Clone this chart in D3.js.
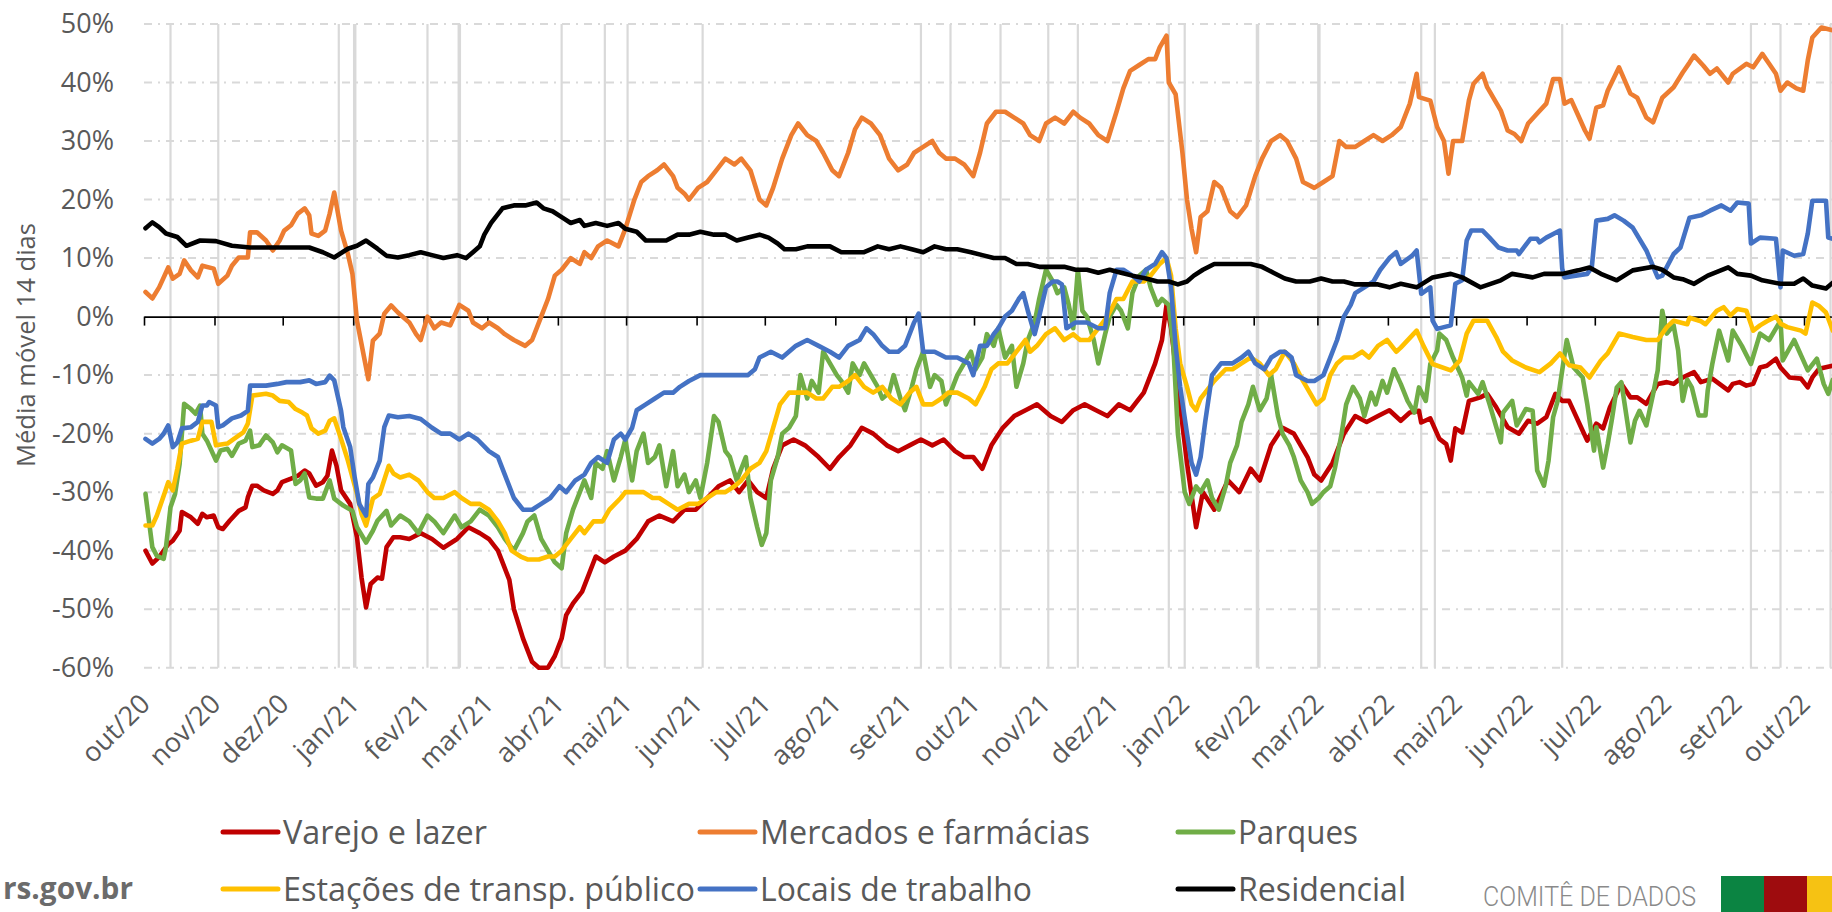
<!DOCTYPE html>
<html><head><meta charset="utf-8">
<script src="https://cdn.jsdelivr.net/npm/d3@7"></script>
<style>body{margin:0;background:#fff}svg{display:block}text{font-family:"Open Sans",sans-serif}</style>
</head><body><svg id="chart" width="1832" height="912"></svg>
<script>
const startDate = "2020-10-01";
const endDay = 742;
const monthLabels = ["out/20","nov/20","dez/20","jan/21","fev/21","mar/21","abr/21","mai/21","jun/21","jul/21","ago/21","set/21","out/21","nov/21","dez/21","jan/22","fev/22","mar/22","abr/22","mai/22","jun/22","jul/22","ago/22","set/22","out/22"];
const yTicks = [50,40,30,20,10,0,-10,-20,-30,-40,-50,-60];
const holidays = ["2020-10-12","2020-11-02","2020-12-25","2021-01-01","2021-02-02","2021-02-16","2021-04-02","2021-04-21","2021-05-01","2021-06-03","2021-09-07","2021-09-20","2021-10-12","2021-11-02","2021-11-15","2021-12-25","2022-01-01","2022-02-02","2022-03-01","2022-04-15","2022-04-21","2022-06-16","2022-09-07","2022-09-20","2022-10-12"];
const holidaysThick = ["2021-01-01","2021-02-16","2022-02-02","2022-03-01"];
const seriesNames = ["Varejo e lazer","Mercados e farmácias","Parques","Estações de transp. público","Locais de trabalho","Residencial"];
const seriesColors = ["#c00000","#ed7d31","#70ad47","#ffc000","#4472c4","#000000"];
const yTitle = "Média móvel 14 dias";

// [day offset from startDate, value %]
const varejo = [[0,-40],[3,-42.2],[6,-41.1],[10,-38.9],[12,-38.3],[15,-36.6],[16,-33.4],[20,-34.3],[23,-35.4],[25,-33.7],[27,-34.3],[30,-34],[32,-36],[34,-36.3],[37,-34.9],[41,-33.2],[44,-32.6],[45,-30.9],[47,-28.9],[49,-28.9],[52,-29.7],[56,-30.3],[58,-29.7],[60,-28.3],[64,-27.7],[67,-27.2],[70,-26.3],[72,-26.8],[75,-28.9],[78,-28.3],[80,-27.2],[82,-22.9],[84,-25.5],[86,-29.7],[90,-32],[93,-37.7],[95,-44.6],[97,-49.7],[99,-45.7],[102,-44.6],[104,-44.8],[106,-39.4],[109,-37.7],[112,-37.7],[116,-38],[121,-37],[126,-38],[131,-39.5],[137,-38],[142,-36],[147,-37],[151,-38],[155,-40],[160,-45],[162,-50],[166,-55],[170,-59],[173,-60],[177,-60],[180,-58],[183,-55],[185,-51],[188,-49],[192,-47],[195,-44],[198,-41],[202,-42],[206,-41],[211,-40],[216,-38],[221,-35],[226,-34],[232,-35],[237,-33],[242,-33],[247,-31],[252,-29],[257,-28],[261,-30],[265,-28],[269,-30],[273,-31],[276,-26],[280,-22],[285,-21],[290,-22],[296,-24],[301,-26],[305,-24],[310,-22],[315,-19],[320,-20],[326,-22],[331,-23],[336,-22],[341,-21],[346,-22],[351,-21],[356,-23],[360,-24],[364,-24],[368,-26],[372,-22],[377,-19],[382,-17],[387,-16],[392,-15],[398,-17],[403,-18],[408,-16],[413,-15],[418,-16],[423,-17],[428,-15],[433,-16],[439,-13],[444,-8],[447,-4],[449,2],[451,-2],[454,-12],[458,-25],[462,-36],[465,-30],[470,-33],[476,-28],[481,-30],[486,-26],[490,-28],[495,-22],[500,-19],[505,-20],[511,-24],[514,-27],[517,-28],[522,-25],[527,-20],[532,-17],[537,-18],[542,-17],[547,-16],[552,-17.8],[556,-16.4],[560,-16.1],[561,-18.1],[565,-17.4],[569,-20.9],[572,-21.8],[574,-24.6],[576,-19.1],[579,-19.8],[582,-14.4],[587,-13.8],[590,-13.2],[594,-15.5],[599,-18.9],[604,-20],[608,-17.8],[612,-18.3],[616,-17.2],[620,-13.2],[623,-14.4],[626,-14.4],[632,-19.5],[634,-21.2],[638,-18.3],[641,-19.1],[644,-15.5],[649,-11.5],[653,-13.8],[656,-13.8],[660,-14.9],[665,-11.5],[669,-11.2],[672,-11.5],[675,-10.6],[681,-9.5],[684,-11.2],[689,-10.6],[696,-12.6],[698,-11.5],[701,-11.2],[704,-11.8],[707,-11.5],[710,-8.7],[713,-8.4],[717,-7.2],[719,-8.7],[723,-10.4],[728,-10.6],[731,-12.1],[733,-10.4],[736,-8.9],[742,-8.4]];

const mercados = [[0,4.2],[3,3.1],[6,5],[10,8.4],[12,6.5],[15,7.3],[17,9.6],[20,7.9],[23,6.7],[25,8.7],[30,8.2],[32,5.6],[36,7],[38,8.7],[41,10.1],[45,10.1],[46,14.4],[49,14.4],[53,13],[56,11.3],[59,13],[61,14.7],[64,15.6],[67,17.6],[70,18.5],[72,17.3],[73,14.2],[76,13.8],[79,14.7],[81,17.6],[83,21.2],[86,14.7],[89,10.7],[91,7.3],[93,-0.7],[98,-10.7],[100,-4.1],[103,-2.9],[105,0.5],[108,1.9],[111,0.7],[116,-1],[119,-3],[121,-4],[124,0],[127,-2],[130,-1],[134,-1.5],[138,2],[142,1],[144,-1],[148,-2],[151,-1],[155,-2],[158,-3],[162,-4],[167,-5],[170,-4],[174,0],[177,3],[180,7],[183,8],[187,10],[191,9],[193,11],[196,10],[199,12],[203,13],[208,12],[211,15],[215,20],[218,23],[221,24],[225,25],[228,26],[232,24],[234,22],[237,21],[239,20],[243,22],[247,23],[251,25],[255,27],[259,26],[262,27],[266,25],[270,20],[273,19],[276,22],[280,27],[284,31],[287,33],[291,31],[295,30],[298,28],[302,25],[305,24],[309,28],[312,32],[315,34],[319,33],[323,31],[327,27],[331,25],[335,26],[338,28],[342,29],[346,30],[349,28],[352,27],[356,27],[360,26],[364,24],[367,28],[370,33],[374,35],[378,35],[382,34],[386,33],[389,31],[393,30],[396,33],[400,34],[404,33],[408,35],[411,34],[415,33],[419,31],[423,30],[427,35],[430,39],[433,42],[437,43],[441,44],[444,44],[446,46],[449,48],[450,40],[453,38],[456,28],[458,20],[460,15],[462,11],[464,17],[467,18],[470,23],[473,22],[477,18],[480,17],[484,19],[488,24],[491,27],[495,30],[499,31],[502,30],[506,27],[509,23],[514,22],[518,23],[522,24],[525,30],[528,29],[532,29],[536,30],[540,31],[544,30],[548,31],[552,32.4],[556,36.4],[559,41.5],[560,37.5],[565,36.9],[568,32.4],[571,30],[573,24.4],[575,30],[579,30],[582,37],[584,39.8],[588,41.5],[590,39.2],[596,35.2],[599,31.8],[602,31.2],[605,30],[608,33],[612,34.7],[616,36.4],[619,40.6],[622,40.6],[624,36.4],[627,37],[630,34.4],[633,31.8],[635,30.4],[638,35.7],[641,36.1],[643,38.6],[648,42.6],[653,38.1],[656,37.4],[660,34],[663,33.2],[667,37.4],[672,39.2],[676,41.7],[679,43.4],[681,44.6],[685,42.9],[688,41.5],[691,42.4],[696,40],[698,41.5],[704,43.2],[707,42.6],[711,44.9],[714,43.2],[717,41.5],[719,38.6],[722,40],[726,39],[729,38.6],[731,43.8],[733,47.7],[737,49.4],[742,48.9]];

const parques = [[0,-30.3],[3,-39.4],[5,-40.9],[8,-41.4],[9,-39.4],[11,-32.6],[13,-30.3],[15,-25.2],[17,-14.9],[20,-15.8],[22,-16.6],[24,-15.2],[25,-20],[27,-21.2],[31,-24.6],[33,-22.9],[36,-22.6],[38,-23.8],[41,-21.7],[44,-21.2],[46,-19.5],[47,-22.3],[50,-22],[53,-20.3],[56,-21.5],[58,-23.2],[60,-22],[64,-22.9],[66,-28.6],[68,-28],[70,-26.8],[72,-30.9],[75,-31.1],[78,-31.1],[81,-28],[83,-31.1],[87,-32.3],[91,-33.2],[93,-36],[97,-38.6],[100,-36.6],[102,-34.9],[106,-33.2],[108,-35.7],[112,-34],[116,-35],[120,-37],[124,-34],[127,-35],[131,-37],[136,-34],[139,-36],[143,-35],[147,-33],[151,-34],[155,-36],[158,-38],[162,-40],[166,-37],[168,-35],[171,-34],[174,-38],[177,-40],[180,-42],[183,-43],[185,-37],[188,-33],[191,-30],[193,-28],[196,-31],[198,-25],[201,-26],[203,-23],[206,-28],[209,-24],[211,-21],[214,-28],[216,-23],[219,-20],[221,-25],[224,-24],[226,-22],[229,-29],[232,-23],[234,-29],[237,-27],[239,-30],[242,-28],[244,-31],[247,-25],[250,-17],[252,-18],[255,-23],[257,-24],[260,-28],[264,-24],[266,-31],[269,-36],[271,-39],[273,-37],[275,-28],[278,-24],[280,-20],[283,-19],[286,-17],[288,-10],[291,-14],[293,-11],[296,-13],[298,-6],[301,-8],[304,-10],[306,-11],[309,-13],[311,-8],[314,-10],[316,-8],[319,-10],[322,-12],[324,-14],[327,-13],[329,-10],[332,-14],[334,-16],[337,-12],[339,-9],[342,-6],[345,-12],[347,-10],[350,-11],[352,-15],[355,-12],[357,-10],[360,-8],[363,-6],[365,-9],[368,-7],[370,-3],[373,-5],[375,-2],[378,-7],[381,-5],[383,-12],[386,-8],[388,-4],[391,-1],[393,3],[396,8],[399,6],[401,4],[404,5],[406,2],[408,-2],[410,8],[412,1],[414,0],[417,-4],[419,-8],[422,-3],[424,0],[427,2],[429,1],[432,-2],[434,4],[437,7],[440,8],[442,5],[445,2],[447,3],[450,2],[452,-5],[454,-20],[457,-30],[459,-32],[462,-29],[464,-30],[467,-28],[469,-31],[472,-33],[475,-29],[477,-25],[480,-22],[482,-18],[485,-15],[487,-12],[490,-16],[493,-14],[495,-10],[498,-17],[500,-20],[503,-22],[505,-24],[508,-28],[511,-30],[513,-32],[516,-31],[518,-30],[521,-29],[523,-26],[526,-20],[528,-15],[531,-12],[534,-14],[536,-17],[539,-13],[541,-15],[544,-11],[546,-13],[549,-9],[552,-11.5],[555,-14.4],[558,-16.4],[560,-12.1],[563,-14.4],[565,-8.1],[568,-5.8],[569,-2.9],[572,-4],[575,-7],[579,-10.4],[581,-13.5],[582,-11.2],[586,-13.2],[588,-11.2],[591,-14.9],[596,-21.5],[597,-16.4],[601,-14.4],[603,-18.6],[607,-15.8],[610,-16.1],[612,-26.3],[615,-28.9],[617,-24.6],[619,-17.2],[621,-14.4],[623,-9.2],[625,-4],[628,-8.7],[632,-10.4],[634,-14.9],[637,-22.9],[638,-18.9],[641,-25.8],[643,-21.8],[645,-17.2],[647,-12.1],[649,-11.2],[653,-21.5],[655,-17.8],[657,-16.1],[660,-18.6],[663,-13.2],[665,-9.2],[667,1],[669,-2.9],[672,-1.5],[674,-5.8],[676,-14.4],[678,-10.8],[680,-12.1],[683,-16.9],[686,-16.9],[687,-12.6],[689,-8.1],[692,-2.4],[696,-7.5],[698,-2.4],[702,-5],[706,-8.1],[710,-2.9],[714,-4],[719,-0.7],[720,-7.5],[725,-4],[731,-9.2],[735,-7.2],[738,-11.5],[740,-13.2],[742,-10.8]];

const estacoes = [[0,-35.7],[3,-35.7],[5,-34],[8,-30.6],[10,-28.3],[12,-29.7],[14,-26],[16,-21.7],[20,-21.2],[23,-20.9],[25,-18],[29,-18],[31,-22],[36,-21.7],[40,-20.6],[43,-19.8],[45,-18.3],[47,-13.5],[53,-13.2],[56,-13.5],[59,-14.4],[63,-14.6],[66,-15.8],[69,-16.4],[71,-16.9],[73,-19.1],[76,-20],[79,-19.5],[81,-17.8],[83,-17.4],[86,-20.9],[89,-24.6],[93,-30.3],[95,-33.7],[97,-35.7],[100,-31.1],[103,-30.3],[107,-25.5],[109,-26.8],[112,-27.5],[116,-27],[120,-28],[124,-30],[127,-31],[131,-31],[136,-30],[139,-31],[143,-32],[147,-32],[151,-33],[155,-35],[158,-37],[161,-40],[165,-41],[168,-41.5],[173,-41.5],[177,-41],[180,-41],[183,-40],[187,-38],[191,-36],[193,-37],[197,-35],[201,-35],[204,-33],[209,-31],[211,-30],[215,-30],[219,-30],[223,-31],[226,-31],[230,-32],[234,-33],[239,-32],[243,-32],[247,-31],[251,-30],[255,-30],[259,-29],[262,-28],[266,-26],[270,-25],[273,-23],[276,-19],[279,-15],[283,-13],[287,-13],[291,-13],[295,-14],[298,-14],[302,-12],[305,-12],[309,-11],[312,-10],[316,-12],[320,-13],[324,-12],[328,-14],[332,-15],[336,-13],[339,-12],[342,-15],[346,-15],[350,-14],[353,-13],[357,-13],[362,-14],[365,-15],[369,-12],[372,-9],[375,-8],[379,-8],[383,-6],[387,-4],[389,-6],[392,-5],[396,-3],[400,-2],[404,-4],[408,-3],[411,-4],[415,-4],[419,-2],[423,0],[427,3],[430,3],[434,6],[439,6],[442,7],[446,9],[449,10],[451,7],[453,-2],[455,-8],[458,-12],[460,-15],[462,-16],[464,-14],[466,-13],[470,-11],[475,-9],[478,-9],[482,-8],[486,-7],[490,-8],[494,-10],[497,-9],[501,-6],[505,-8],[509,-11],[512,-13],[515,-15],[518,-14],[521,-10],[524,-8],[527,-7],[531,-7],[535,-6],[538,-7],[542,-5],[546,-4],[550,-6],[552,-5.3],[559,-2.4],[562,-5],[566,-8.1],[574,-9.2],[578,-7.5],[581,-2.9],[584,-0.7],[590,-0.7],[594,-3.5],[597,-6],[601,-7.5],[607,-8.7],[613,-9.5],[618,-8],[622,-6.3],[626,-8.3],[631,-8.7],[635,-10.4],[640,-7.5],[643,-6.3],[648,-2.9],[654,-3.5],[660,-4],[665,-4],[669,-1.8],[672,-0.7],[678,-1.3],[679,-0.2],[684,-0.8],[686,-1.3],[691,1],[694,1.6],[697,0.2],[700,1.3],[704,1],[707,-2.4],[710,-1.5],[713,-0.8],[717,0],[719,-1.2],[722,-1.8],[728,-2.4],[730,-2.9],[733,2.4],[736,1.8],[739,0.7],[742,-2.4]];

const locais = [[0,-20.9],[3,-21.7],[6,-20.9],[8,-20],[10,-18.6],[12,-22.3],[14,-21.5],[16,-19.1],[20,-18.9],[23,-18],[25,-15.2],[27,-15.2],[28,-14.6],[31,-15.2],[32,-18.9],[34,-18.6],[38,-17.4],[42,-16.9],[45,-16.1],[46,-11.8],[53,-11.8],[58,-11.5],[62,-11.2],[68,-11.2],[72,-10.9],[75,-11.5],[79,-11.2],[81,-10.1],[83,-10.9],[86,-16.1],[87,-18.9],[90,-22.3],[92,-27.5],[94,-32],[97,-34],[98,-28.6],[100,-27.5],[103,-24.6],[105,-18.9],[107,-16.9],[111,-17.2],[116,-17],[121,-17.5],[126,-19],[130,-20],[134,-20],[138,-21],[142,-20],[146,-21],[151,-23],[155,-24],[158,-27],[162,-31],[166,-33],[170,-33],[174,-32],[178,-31],[182,-29],[185,-30],[189,-28],[193,-27],[196,-25],[199,-24],[203,-25],[206,-21],[209,-20],[211,-21],[214,-19],[216,-16],[220,-15],[224,-14],[228,-13],[232,-13],[235,-12],[239,-11],[244,-10],[247,-10],[255,-10],[260,-10],[265,-10],[268,-9],[270,-7],[275,-6],[280,-7],[286,-5],[291,-4],[296,-5],[301,-6],[305,-7],[309,-5],[314,-4],[317,-2],[320,-3],[324,-5],[327,-6],[331,-6],[334,-5],[338,-1],[340,0.5],[342,-6],[347,-6],[352,-7],[357,-7],[362,-8],[364,-10],[367,-5],[370,-5],[373,-3],[375,-2],[378,0],[381,1],[384,3],[386,4],[388,1],[391,-3],[393,0],[396,5],[399,6],[401,6],[403,5.5],[405,-2],[409,-1],[414,-1],[419,-2],[422,-2],[424,4],[427,8],[430,8],[434,7],[437,6],[440,8],[444,9],[447,11],[449,10],[451,5],[453,-5],[455,-12],[458,-20],[460,-25],[462,-27],[464,-24],[466,-18],[469,-10],[473,-8],[478,-8],[482,-7],[485,-6],[488,-8],[492,-9],[495,-7],[499,-6],[501,-6],[504,-7],[506,-10],[511,-11],[514,-11],[518,-10],[521,-7],[524,-4],[527,0],[530,2],[532,4],[536,5],[540,6],[543,8],[547,10],[550,11],[552,9],[557,10.4],[559,11.3],[561,3.9],[565,5],[566,-0.7],[568,-2.1],[574,-1.5],[576,5.6],[579,6.2],[581,13],[583,14.7],[588,14.7],[591,13.5],[595,11.8],[599,11.3],[603,11.3],[604,10.7],[609,13.3],[612,13.3],[613,12.7],[616,13.5],[622,14.7],[623,8.2],[624,6.7],[634,7.3],[636,8.4],[638,16.4],[643,16.7],[646,17.3],[650,16.4],[654,15.2],[660,11.3],[665,6.7],[667,7],[672,10.7],[675,11.8],[679,16.9],[684,17.3],[688,18.1],[693,19],[697,18.1],[700,19.5],[705,19.3],[706,12.5],[710,13.5],[717,13.3],[719,5],[720,11.3],[725,10.4],[729,10.7],[731,14.2],[733,19.8],[739,19.8],[740,13.5],[742,13.3]];

const residencial = [[0,15.1],[3,16.1],[6,15.3],[9,14.2],[14,13.6],[18,12.1],[24,13],[31,12.9],[38,12.1],[46,11.8],[60,11.8],[72,11.8],[78,11],[83,10.1],[89,11.6],[93,12.1],[97,13],[102,11.6],[106,10.4],[111,10.1],[116,10.5],[121,11],[126,10.5],[131,10],[137,10.5],[141,10],[144,11],[147,12],[149,14],[152,16],[155,17.5],[157,18.5],[162,19],[167,19],[172,19.5],[175,18.5],[179,18],[183,17],[187,16],[191,16.5],[193,15.5],[198,16],[203,15.5],[208,16],[211,15],[216,14.5],[220,13],[224,13],[229,13],[234,14],[239,14],[244,14.5],[250,14],[255,14],[260,13],[265,13.5],[270,14],[274,13.5],[278,12.5],[281,11.5],[286,11.5],[291,12],[296,12],[301,12],[306,11],[311,11],[316,11],[322,12],[327,11.5],[332,12],[337,11.5],[342,11],[347,12],[352,11.5],[357,11.5],[363,11],[368,10.5],[373,10],[378,10],[383,9],[388,9],[393,8.5],[399,8.5],[404,8.5],[409,8],[414,8],[419,7.5],[424,8],[429,7.5],[434,7],[440,6.5],[445,6],[450,6],[454,5.5],[458,6],[461,7],[465,8],[470,9],[476,9],[481,9],[486,9],[491,8.5],[496,7.5],[501,6.5],[506,6],[512,6],[517,6.5],[522,6],[527,6],[532,5.5],[537,5.5],[542,5.5],[547,5],[552,5.6],[559,5],[566,6.7],[574,7.3],[579,6.7],[587,5],[596,6.2],[601,7.3],[610,6.7],[615,7.3],[623,7.3],[630,7.9],[635,8.4],[640,7.3],[647,6.2],[654,7.9],[663,8.5],[667,8],[672,6.7],[676,6.4],[681,5.6],[687,7],[696,8.4],[700,7.3],[706,7],[711,6.2],[719,5.6],[725,5.6],[729,6.5],[733,5.3],[739,4.8],[742,5.8]];

const seriesData = [varejo, mercados, parques, estacoes, locais, residencial];

// ---------- drawing ----------
const parse = d3.utcParse("%Y-%m-%d");
const t0 = parse(startDate);
const dayToDate = d => d3.utcDay.offset(t0, d);
const x = d3.scaleUtc().domain([t0, dayToDate(endDay)]).range([145.5, 145.5 + endDay * 2.274]);
const y = d3.scaleLinear().domain([-60, 50]).range([667.7, 24]);
const svg = d3.select("#chart");
svg.append("rect").attr("width", 1832).attr("height", 912).attr("fill", "#fff");

// horizontal dash-dot gridlines
svg.append("g").selectAll("line").data(yTicks.filter(v => v !== 0)).join("line")
  .attr("x1", 144).attr("x2", 1832).attr("y1", d => y(d)).attr("y2", d => y(d))
  .attr("stroke", "#d9d9d9").attr("stroke-width", 2).attr("stroke-dasharray", "8,6,2,6");

// holiday vertical lines
svg.append("g").selectAll("line").data(holidays).join("line")
  .attr("x1", d => x(parse(d))).attr("x2", d => x(parse(d)))
  .attr("y1", y(50)).attr("y2", y(-60))
  .attr("stroke", "#d9d9d9")
  .attr("stroke-width", d => holidaysThick.includes(d) ? 3.5 : 2.2);

// y axis labels
const yAxis = svg.append("g").attr("transform", "translate(114,0)")
  .call(d3.axisLeft(y).tickValues(yTicks).tickFormat(d => d + "%").tickSize(0).tickPadding(0));
yAxis.select(".domain").remove();
yAxis.selectAll("text").attr("font-size", 27).attr("fill", "#595959")
  .style("font-family", '"Open Sans", sans-serif');

// y title
svg.append("text").attr("transform", "translate(35,345) rotate(-90)")
  .attr("text-anchor", "middle").attr("font-size", 26).attr("fill", "#595959")
  .attr("textLength", 244).attr("lengthAdjust", "spacingAndGlyphs").text(yTitle);

// zero axis with month ticks
const monthDates = monthLabels.map((_, i) => d3.utcMonth.offset(t0, i));
const xAxis = svg.append("g").attr("transform", `translate(-1.5,${y(0)})`)
  .call(d3.axisBottom(x).tickValues(monthDates).tickFormat("").tickSize(9).tickSizeOuter(0));
xAxis.select(".domain").attr("stroke", "#000").attr("stroke-width", 1.6);
xAxis.selectAll(".tick line").attr("stroke", "#000").attr("stroke-width", 1.6);

// month labels (rotated, at bottom)
svg.append("g").selectAll("text").data(monthLabels).join("text")
  .attr("transform", (d, i) => `translate(${x(monthDates[i]) - 0.5},699) rotate(-45)`)
  .attr("text-anchor", "end").attr("dy", "0.35em")
  .attr("font-size", 27).attr("fill", "#595959").text(d => d);

// series lines
const line = d3.line().x(d => x(dayToDate(d[0]))).y(d => y(d[1]));
svg.append("g").selectAll("path").data(seriesData).join("path")
  .attr("d", line).attr("fill", "none")
  .attr("stroke", (d, i) => seriesColors[i]).attr("stroke-width", 4.6)
  .attr("stroke-linejoin", "round").attr("stroke-linecap", "round");

// legend
const legX = [223, 700, 1178], legY = [832, 889];
const legW = [204, 330, 120, 412, 272, 168];
const leg = svg.append("g").selectAll("g").data(seriesNames).join("g")
  .attr("transform", (d, i) => `translate(${legX[i % 3]},${legY[Math.floor(i / 3)]})`);
leg.append("line").attr("x1", 0).attr("x2", 55).attr("y1", 0).attr("y2", 0)
  .attr("stroke", (d, i) => seriesColors[i]).attr("stroke-width", 5).attr("stroke-linecap", "round");
leg.append("text").attr("x", 60).attr("y", 12).attr("font-size", 33).attr("fill", "#595959")
  .attr("textLength", (d, i) => legW[i]).attr("lengthAdjust", "spacingAndGlyphs").text(d => d);

// footer
svg.append("text").attr("x", 3).attr("y", 899).attr("font-size", 30).attr("font-weight", 700)
  .attr("fill", "#6b6b6b").attr("textLength", 130).attr("lengthAdjust", "spacingAndGlyphs").text("rs.gov.br");
svg.append("text").attr("x", 1483).attr("y", 906).attr("font-size", 27).attr("font-weight", 300)
  .style("font-family", "Roboto, sans-serif")
  .attr("fill", "#8a8a8a").attr("textLength", 213).attr("lengthAdjust", "spacingAndGlyphs").text("COMITÊ DE DADOS");
const flag = [["#0b8442", 1721], ["#9e0c0e", 1764], ["#f6c213", 1807]];
svg.append("g").selectAll("rect").data(flag).join("rect")
  .attr("x", d => d[1]).attr("y", 876).attr("width", 43).attr("height", 36).attr("fill", d => d[0]);
</script></body></html>
